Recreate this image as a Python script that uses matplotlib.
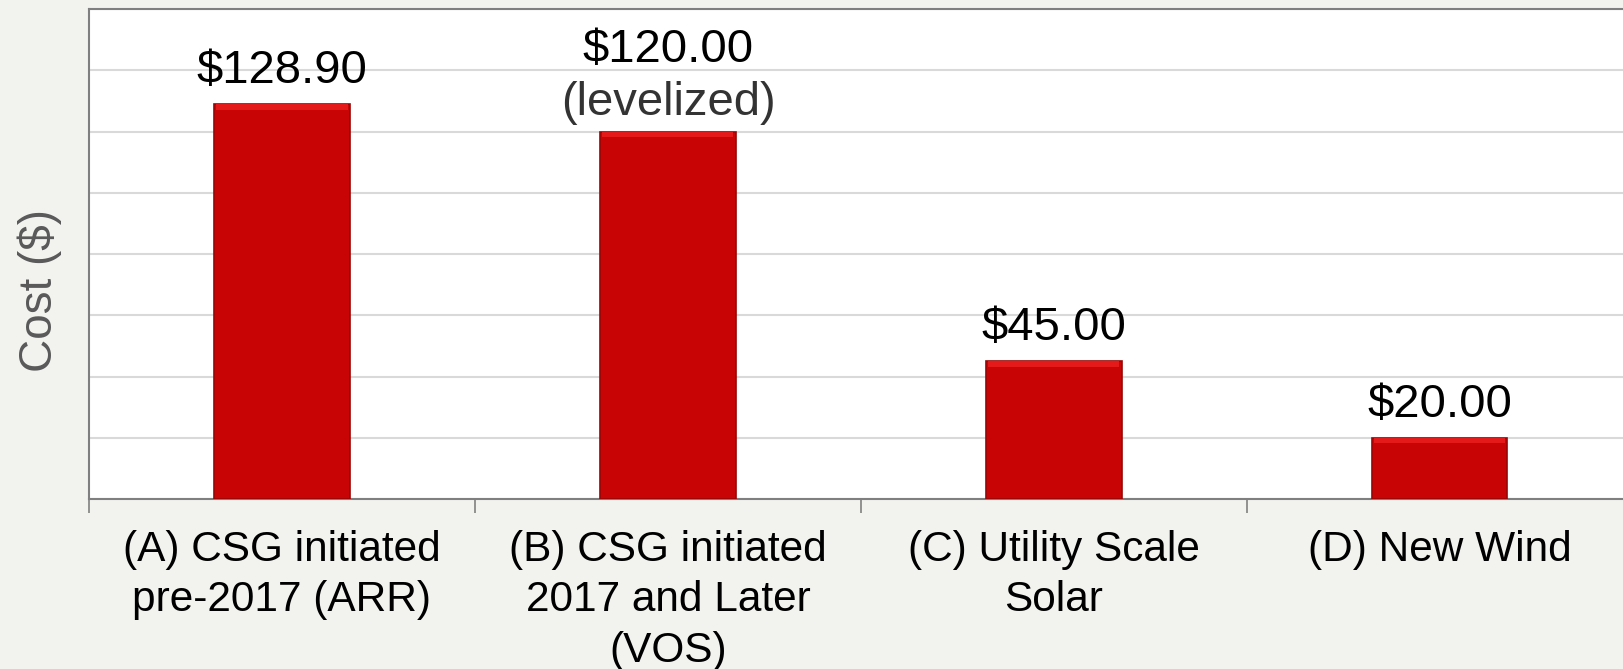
import numpy as np
import matplotlib
matplotlib.use('Agg')
import matplotlib.pyplot as plt

plt.rcParams['font.family'] = ['Liberation Sans', 'DejaVu Sans']

# Данные
categories = ['(A) CSG initiated\npre-2017 (ARR)',
              '(B) CSG initiated\n2017 and Later\n(VOS)',
              '(C) Utility Scale\nSolar',
              '(D) New Wind']
costs = [128.90, 120.00, 45.00, 20.00]
notes = ['', '(levelized)', '', '']

fig = plt.figure(figsize=(16.24, 6.69), dpi=100, facecolor='#F2F2EE')
ax = fig.add_axes([0.0548, 0.254, 0.9507, 0.7325])
ax.set_facecolor('white')

x = np.arange(len(costs))
w = 0.35
ax.bar(x, costs, width=w, color='#C80404', edgecolor='#9A0606', linewidth=1.2, zorder=3)
# светлая кромка сверху (имитация фаски)
ax.bar(x, [1.8] * len(costs), bottom=np.array(costs) - 1.8, width=w * 0.97,
       color='#E41A1A', linewidth=0, zorder=4)

for xi, c, n in zip(x, costs, notes):
    if n:
        ax.annotate(n, (xi, c), xytext=(0, 12), textcoords='offset points',
                    ha='center', va='baseline', fontsize=34, color='#333333')
        ax.annotate(f'${c:.2f}', (xi, c), xytext=(0, 50), textcoords='offset points',
                    ha='center', va='baseline', fontsize=34, color='black')
    else:
        ax.annotate(f'${c:.2f}', (xi, c), xytext=(0, 15), textcoords='offset points',
                    ha='center', va='baseline', fontsize=34, color='black')

ax.set_xlim(-0.5, len(costs) - 0.5)
ax.set_ylim(0, 160)
ax.set_yticks(np.arange(0, 161, 20))
ax.yaxis.grid(True, color='#D9D9D9', linewidth=1.5, zorder=0)
ax.tick_params(axis='y', left=False, labelleft=False)

ax.set_xticks(x)
ax.set_xticklabels(categories, fontsize=30.5, linespacing=1.34)
ax.tick_params(axis='x', which='major', length=0, pad=22)
ax.set_xticks(np.arange(-0.5, len(costs), 1), minor=True)
ax.tick_params(axis='x', which='minor', length=10, width=1.2, color='#808080')

for s in ax.spines.values():
    s.set_color('#7F7F7F')
    s.set_linewidth(1.5)
ax.spines['right'].set_visible(False)

ax.set_ylabel('Cost ($)', fontsize=33, color='#595959')
ax.yaxis.set_label_coords(-0.0175, 0.425)

fig.savefig('out.png', dpi=100, facecolor=fig.get_facecolor())
